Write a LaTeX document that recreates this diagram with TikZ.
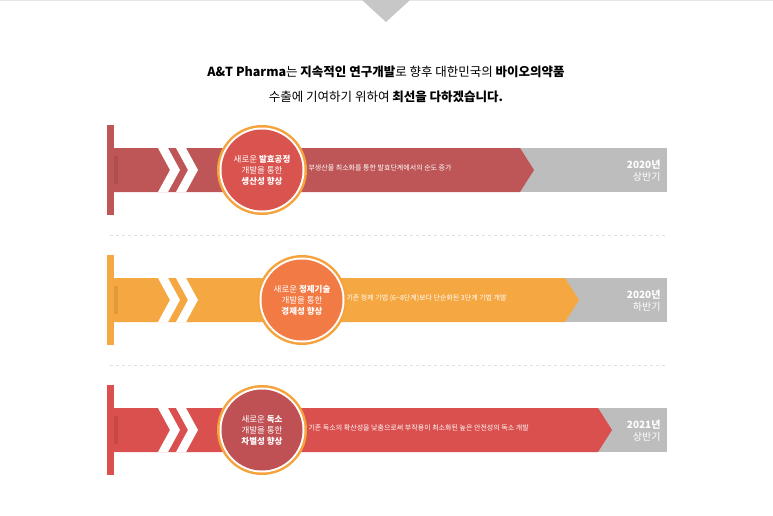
\documentclass[tikz,border=0pt]{standalone}
\usepackage{fontspec}
\setmainfont{Noto Sans CJK KR}
\begin{document}
\begin{tikzpicture}[x=1pt,y=-1pt,
  yr/.style={anchor=east,text=white,font=\fontsize{10}{12}\selectfont,align=right},
  ctext/.style={text=white,align=center,font=\fontsize{8.5}{11}\selectfont},
  dtext/.style={anchor=west,text=white,font=\fontsize{7}{9}\selectfont},
  sep/.style={draw=black!12,dashed,line width=0.6pt}]
\definecolor{rA}{HTML}{BE5556}\definecolor{cA}{HTML}{D9534F}
\definecolor{rB}{HTML}{F5A742}\definecolor{cB}{HTML}{F27A45}
\definecolor{rC}{HTML}{D9504E}\definecolor{cC}{HTML}{BF5154}
\definecolor{ring}{HTML}{F5A33C}\definecolor{gr}{HTML}{BDBDBD}
\useasboundingbox (0,0) rectangle (773,515);
\fill[white] (0,0) rectangle (773,515);
\draw[black!10] (0,0.5) -- (773,0.5);
\fill[black!22] (362,0) -- (410,0) -- (386,22) -- cycle;
\node (h1) at (386,72) {\fontsize{12.5}{15}\selectfont\textbf{A\&T Pharma}는 \textbf{지속적인 연구개발}로 향후 대한민국의 \textbf{바이오의약품}};
\node (h2) at (386,97) {\fontsize{12.5}{15}\selectfont 수출에 기여하기 위하여 \textbf{최선을 다하겠습니다.}};
\draw[sep] (110,235) -- (667,235);
\draw[sep] (110,365) -- (667,365);
% rows: y-center, band color, circle color, arrow corner, circle x
\foreach \yc/\bc/\cc/\ax/\cx/\nm in {170/rA/cA/520/262/a,300/rB/cB/565/302/b,430/rC/cC/598/262/c}{
  \fill[gr] (\ax-30,\yc-22) rectangle (667,\yc+22);
  \fill[\bc] (114,\yc-22) -- (\ax,\yc-22) -- (\ax+14,\yc) -- (\ax,\yc+22) -- (114,\yc+22) -- cycle;
  \fill[\bc] (107,\yc-45) rectangle (114,\yc+45);
  \fill[black,opacity=0.08] (114,\yc-14) rectangle (118,\yc+14);
  \foreach \dx in {0,18}{
    \fill[white] (158+\dx,\yc-22) -- (168+\dx,\yc-22) -- (180+\dx,\yc) -- (168+\dx,\yc+22) -- (158+\dx,\yc+22) -- (170+\dx,\yc) -- cycle;}
  \fill[ring] (\cx,\yc) circle (45);
  \fill[white] (\cx,\yc) circle (42.5);
  \fill[\cc] (\cx,\yc) circle (40.5);
  \coordinate (c\nm) at (\cx,\yc);
}
\node[ctext] (t1) at (ca) {새로운 \textbf{발효공정}\\개발을 통한\\\textbf{생산성 향상}};
\node[ctext] (t2) at (cb) {새로운 \textbf{정제기술}\\개발을 통한\\\textbf{경제성 향상}};
\node[ctext] (t3) at (cc) {새로운 \textbf{독소}\\개발을 통한\\\textbf{차별성 향상}};
\node[dtext] (d1) at (305,168) {부생산물 최소화를 통한 발효단계에서의 순도 증가};
\node[dtext] (d2) at (343,298) {기존 정제 기법 (6\textasciitilde 8단계)보다 단순화된 3단계 기법 개발};
\node[dtext] (d3) at (305,428) {기존 독소의 확산성을 낮춤으로써 부작용이 최소화된 높은 안전성의 독소 개발};
\node[yr] (y1) at (664,171) {\textbf{2020년}\\상반기};
\node[yr] (y2) at (664,301) {\textbf{2020년}\\하반기};
\node[yr] (y3) at (664,431) {\textbf{2021년}\\상반기};
\end{tikzpicture}
\end{document}
